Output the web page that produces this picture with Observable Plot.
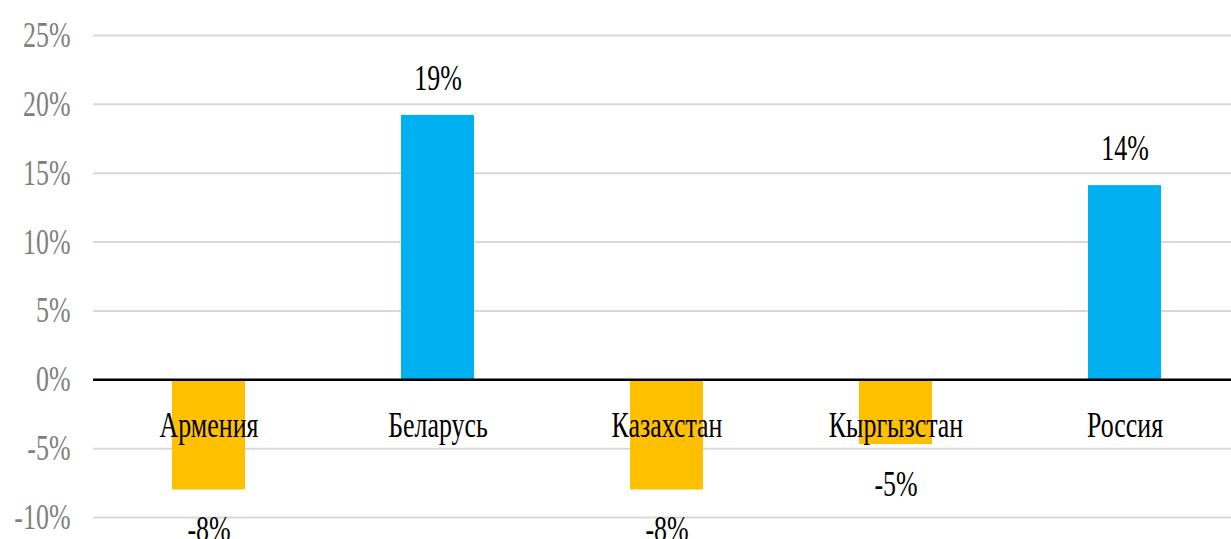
<!DOCTYPE html>
<html>
<head>
<meta charset="utf-8">
<script src="https://cdn.jsdelivr.net/npm/d3@7"></script>
<script src="https://cdn.jsdelivr.net/npm/@observablehq/plot@0.6"></script>
<style>
  html, body { margin: 0; padding: 0; background: #fff; overflow: hidden; }
  #chart { width: 1231px; height: 539px; overflow: hidden; }
</style>
</head>
<body>
<div id="chart"></div>
<script>
const countries = ["Армения", "Беларусь", "Казахстан", "Кыргызстан", "Россия"];
const values = [-8.0, 19.2, -8.0, -4.7, 14.1];
const yTicks = [-10, -5, 0, 5, 10, 15, 20, 25];

const data = countries.map((c, i) => ({country: c, value: values[i]}));
const pos = data.filter(d => d.value >= 0);
const neg = data.filter(d => d.value < 0);
const fmt = d => `${Math.round(d)}%`;

const chart = Plot.plot({
  width: 1231,
  height: 539,
  marginTop: 35,
  marginBottom: 22,
  marginLeft: 93,
  marginRight: -9,
  style: {fontFamily: "'Times New Roman', 'Liberation Serif', serif", fontSize: "36px", background: "#fff", overflow: "hidden"},
  x: {domain: countries, paddingInner: 0.682, paddingOuter: 0.341, axis: null},
  y: {domain: [-10, 25], axis: null},
  color: {domain: ["neg", "pos"], range: ["#FFC000", "#00B0F0"]},
  marks: [
    Plot.ruleY(yTicks.filter(t => t !== 0), {stroke: "#d9d9d9", strokeWidth: 2}),
    Plot.axisY(yTicks, {tickSize: 0, tickPadding: 23, tickFormat: d => `${d}%`, color: "#808080", label: null}),
    Plot.barY(data, {x: "country", y: "value", fill: d => d.value >= 0 ? "pos" : "neg"}),
    Plot.ruleY([0], {stroke: "#000", strokeWidth: 2.5}),
    Plot.text(data, {x: "country", y: 0, text: "country", dy: 46, fill: "#000"}),
    Plot.text(pos, {x: "country", y: "value", text: d => fmt(d.value), dy: -37, fill: "#000"}),
    Plot.text(neg, {x: "country", y: "value", text: d => fmt(d.value), dy: 40, fill: "#000"})
  ]
});

document.getElementById("chart").append(chart);

// condense text horizontally (reference glyphs are narrow/tall)
const sx = 0.72;
chart.querySelectorAll("text").forEach(t => {
  const b = t.getBBox();
  const anchor = getComputedStyle(t).textAnchor;
  let ax = anchor === "end" ? b.x + b.width : anchor === "middle" ? b.x + b.width / 2 : b.x;
  const tl = t.transform && t.transform.baseVal;
  const c = tl && tl.numberOfItems ? tl.consolidate() : null;
  if (c) ax = c.matrix.a * ax + c.matrix.e;
  const g = document.createElementNS("http://www.w3.org/2000/svg", "g");
  g.setAttribute("transform", `translate(${ax},0) scale(${sx},1) translate(${-ax},0)`);
  t.parentNode.insertBefore(g, t);
  g.appendChild(t);
});
</script>
</body>
</html>
